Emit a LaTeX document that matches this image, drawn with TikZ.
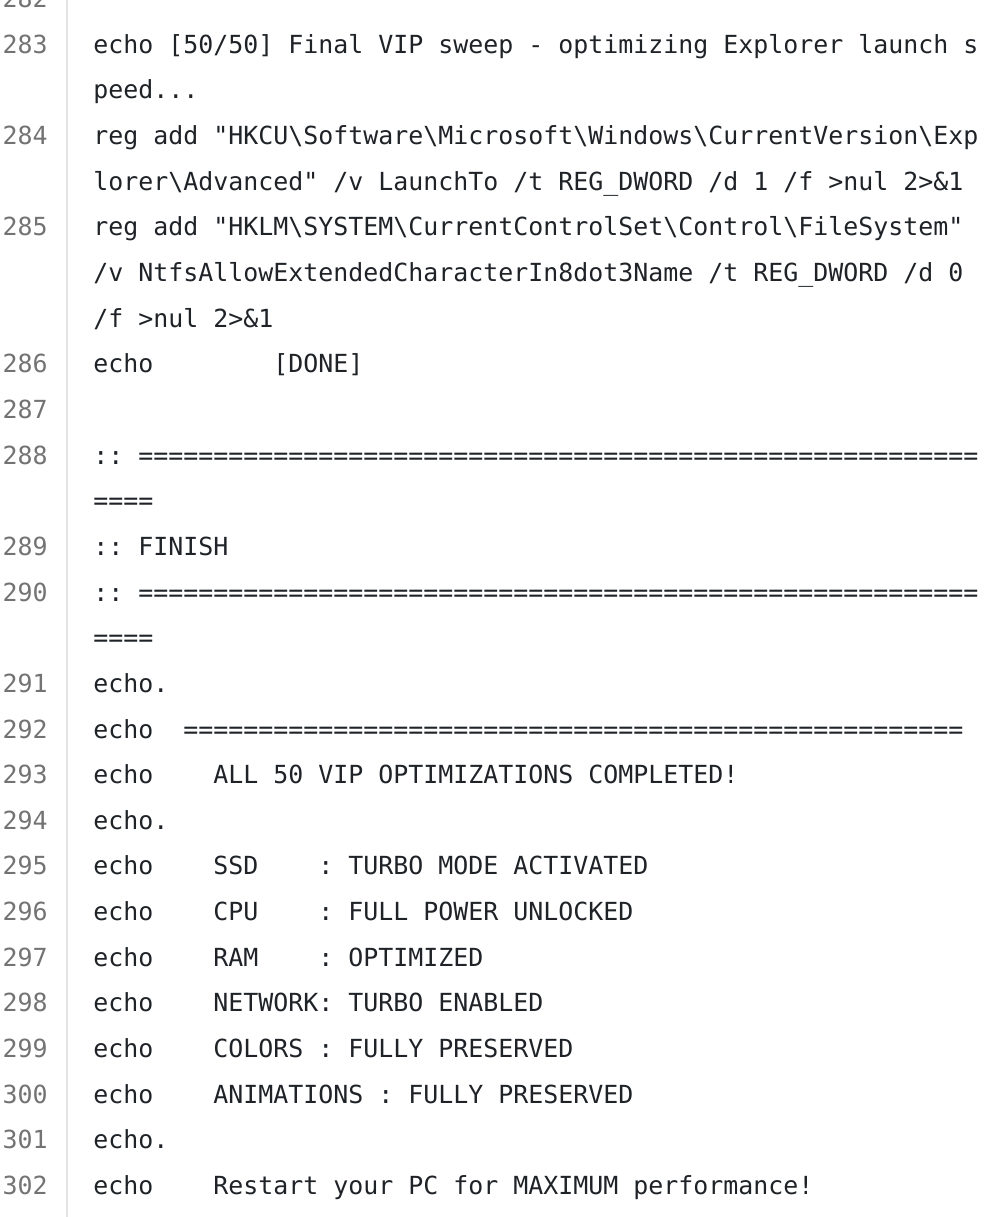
\documentclass[tikz,border=0pt]{standalone}
\usepackage{fontspec}
\setmonofont{DejaVu Sans Mono}
\definecolor{codeink}{HTML}{1F2328}
\definecolor{numink}{HTML}{737373}
\definecolor{gutterline}{HTML}{E3E3E3}
\newlength\cw
\setlength\cw{11.25pt}
\newcommand\bs{\textbackslash}
\newcommand\blank[1]{\hspace*{#1\cw}}
\newcommand\ry[1]{7.6+45.65*#1}
\begin{document}
\begin{tikzpicture}[x=0.75pt, y=-0.75pt, line cap=round,
  lnum/.style={anchor=base east, inner sep=0pt, text=numink},
  code/.style={anchor=base west, inner sep=0pt, text=codeink},
  font=\ttfamily\fontsize{18.69pt}{34pt}\selectfont\frenchspacing]
  \useasboundingbox[fill=white] (0,0) rectangle (1000,1217);
  \path
  (67,0) coordinate (gtop)
  (67,1217) coordinate (gbot)
  ;
  \draw[gutterline, line width=1.1pt] (gtop)--(gbot);
  % line numbers
  \foreach \n/\k in {282/0,283/1,284/3,285/5,286/8,287/9,288/10,289/12,290/13,
    291/15,292/16,293/17,294/18,295/19,296/20,297/21,298/22,299/23,300/24,301/25,302/26}
  \node[lnum] (n\n) at (48,{\ry{\k}}) {\n};
  % code rows
  \node[code] (r1) at (93,{\ry{1}}) {echo [50/50] Final VIP sweep - optimizing Explorer launch s};
  \node[code] (r2) at (93,{\ry{2}}) {peed...};
  \node[code] (r3) at (93,{\ry{3}}) {reg add "HKCU\bs{}Software\bs{}Microsoft\bs{}Windows\bs{}CurrentVersion\bs{}Exp};
  \node[code] (r4) at (93,{\ry{4}}) {lorer\bs{}Advanced" /v LaunchTo /t REG\_DWORD /d 1 /f >nul 2>\&1};
  \node[code] (r5) at (93,{\ry{5}}) {reg add "HKLM\bs{}SYSTEM\bs{}CurrentControlSet\bs{}Control\bs{}FileSystem"};
  \node[code] (r6) at (93,{\ry{6}}) {/v NtfsAllowExtendedCharacterIn8dot3Name /t REG\_DWORD /d 0};
  \node[code] (r7) at (93,{\ry{7}}) {/f >nul 2>\&1};
  \node[code] (r8) at (93,{\ry{8}}) {echo\blank{8}[DONE]};
  \node[code] (r10) at (93,{\ry{10}}) {:: ========================================================};
  \node[code] (r11) at (93,{\ry{11}}) {====};
  \node[code] (r12) at (93,{\ry{12}}) {:: FINISH};
  \node[code] (r13) at (93,{\ry{13}}) {:: ========================================================};
  \node[code] (r14) at (93,{\ry{14}}) {====};
  \node[code] (r15) at (93,{\ry{15}}) {echo.};
  \node[code] (r16) at (93,{\ry{16}}) {echo\blank{2}====================================================};
  \node[code] (r17) at (93,{\ry{17}}) {echo\blank{4}ALL 50 VIP OPTIMIZATIONS COMPLETED!};
  \node[code] (r18) at (93,{\ry{18}}) {echo.};
  \node[code] (r19) at (93,{\ry{19}}) {echo\blank{4}SSD\blank{4}: TURBO MODE ACTIVATED};
  \node[code] (r20) at (93,{\ry{20}}) {echo\blank{4}CPU\blank{4}: FULL POWER UNLOCKED};
  \node[code] (r21) at (93,{\ry{21}}) {echo\blank{4}RAM\blank{4}: OPTIMIZED};
  \node[code] (r22) at (93,{\ry{22}}) {echo\blank{4}NETWORK: TURBO ENABLED};
  \node[code] (r23) at (93,{\ry{23}}) {echo\blank{4}COLORS : FULLY PRESERVED};
  \node[code] (r24) at (93,{\ry{24}}) {echo\blank{4}ANIMATIONS : FULLY PRESERVED};
  \node[code] (r25) at (93,{\ry{25}}) {echo.};
  \node[code] (r26) at (93,{\ry{26}}) {echo\blank{4}Restart your PC for MAXIMUM performance!};
\end{tikzpicture}
\end{document}
